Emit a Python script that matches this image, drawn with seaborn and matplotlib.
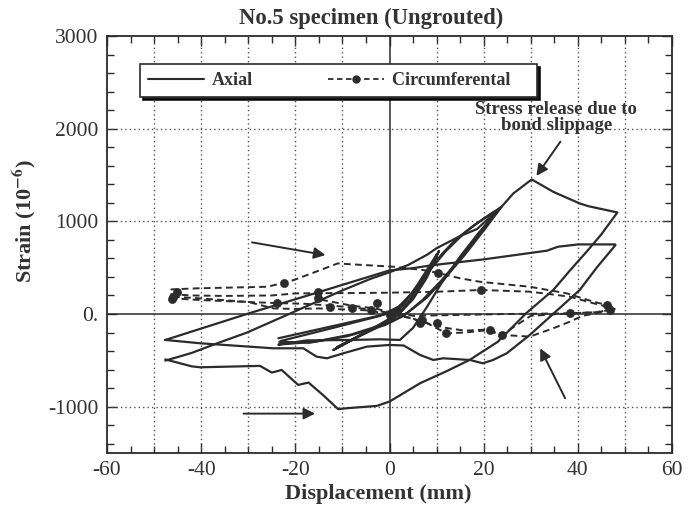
import numpy as np
import pandas as pd
import matplotlib
matplotlib.use("Agg")
import matplotlib.pyplot as plt
import seaborn as sns
from matplotlib.lines import Line2D
from matplotlib.ticker import FixedLocator, MultipleLocator

sns.set_style("ticks")
plt.rcParams["font.family"] = ["Liberation Serif", "DejaVu Serif"]
plt.rcParams["mathtext.fontset"] = "stix"
plt.rcParams["axes.unicode_minus"] = False

INK = "#2b2b2b"

# ---------------- data (displacement mm, strain 1e-6) ----------------
# Axial: big cycle with stress release peak
axial_a_x = [-47.6, -42, -36.6, -30.3, -20, -9.8, -4, 0, 4, 8, 10, 12.1, 15, 18.6, 21, 23.8, 26.3, 27.7, 30.2,
             34.8, 40.4, 42.2, 48.4, 45, 42, 38.5, 34.8, 29, 23, 17, 12, 6.5, 0, -2.7, -9.1, -10.9,
             -14, -17.2, -19.4, -22.9, -25, -27.5, -40.2, -42, -47.6]
axial_a_y = [-503, -420, -316, -201, 30, 259, 380, 450, 530, 640, 710, 765, 841, 917, 1030, 1157, 1301, 1355, 1452,
             1318, 1193, 1164, 1096, 860, 680, 480, 260, 7, -300, -496, -620, -747, -945, -992, -1017, -1027,
             -880, -740, -765, -604, -632, -560, -575, -565, -490]
# Axial: second cycle at +/-48 mm (peak about 750)
axial_b_x = [-47.6, -30, -18, 0, 5, 9.3, 20.1, 33.4, 35.8, 40.1, 47.9, 48, 44, 40.4, 29.8, 24.9, 22, 19.8,
             17.1, 11.4, 9.3, 6.5, 3, 0, -4.8, -9.8, -13.3, -15.5, -18.3, -24.7, -40.2, -47.6]
axial_b_y = [-280, 5, 190, 470, 495, 528, 590, 683, 726, 751, 751, 744, 500, 259, -226, -424, -496, -532,
             -496, -478, -496, -442, -340, -334, -352, -424, -478, -460, -370, -370, -316, -280]
# Axial: cycles at +/-24 mm
axial_c_x = [-23.6, -12, 0, 3, 6, 9, 12, 16, 20, 23.8, 20, 16, 12, 8, 4, 0, -8, -16, -23.6,
             -17.6, -8, -2, 2.2, 5, 8, 11, 15, 19, 23.3]
axial_c_y = [-262, -130, 7, 120, 300, 500, 680, 880, 1030, 1157, 900, 640, 400, 180, 20, -90, -220, -300, -330,
             -285, -280, -273, -280, -150, 80, 330, 620, 880, 1130]
axial_d_x = [-23.0, -12, -2, 2, 5, 8, 11, 14, 18, 22.5, 19, 15, 11, 7, 3, -1, -9, -17, -23.4]
axial_d_y = [-290, -150, -20, 80, 240, 440, 640, 800, 960, 1110, 860, 600, 360, 150, -20, -120, -240, -310, -300]
# Axial: cycles at +/-12 mm
axial_e_x = [-11.9, -6, 0, 3, 6, 9, 10.5, 8, 5, 2, 0, -6, -11.9]
axial_e_y = [-388, -230, -83, 60, 280, 520, 680, 400, 160, 0, -60, -220, -388]
axial_f_x = [-11.2, -5, 0, 3, 6, 8.5, 10.0, 7.5, 4.5, 1, -5, -11.2]
axial_f_y = [-360, -200, -50, 100, 320, 520, 640, 360, 140, -40, -200, -360]

# Circumferential (dashed)
circ_1_x = [-46.5, -40.9, -26, -22.5, -20.3, -14.7, -11, -9, 0.9, 7.2, 10.7, 15, 19.2, 29.8, 37.6, 43.3, 46.1, 47.9]
circ_1_y = [265, 277, 294, 335, 367, 474, 546, 539, 510, 474, 439, 385, 348, 294, 223, 133, 97, 61]
circ_2_x = [-46.5, -42, -35, -25, -20, -15, -10, 0, 10, 19.4, 29.8, 38.3, 43, 46.5, 48]
circ_2_y = [215, 200, 195, 200, 222, 225, 225, 230, 240, 259, 241, 187, 120, 75, 50]
circ_3_x = [-46.5, -40, -33, -24, -18, -15, -10, -5, -2, 0, 2, 5, 8, 12, 16, 20, 24, 29.8, 34.8, 38.3, 41, 45, 47]
circ_3_y = [170, 150, 135, 118, 110, 100, 80, 55, 30, 10, -10, -50, -100, -150, -180, -170, -226, -244, -154, -83, -20, 20, 60]
circ_4_x = [-46, -42, -30, -24.6, -20, -15, -10, -5, 0, 4, 8, 12.1, 16, 21.3, 23.8, 30, 38.3, 44, 46.8]
circ_4_y = [185, 175, 130, 60, 55, 60, 50, 40, 0, -40, -100, -208, -200, -172, -226, -20, 7, 20, 43]
circ_5_x = [-15.1, -15.1, -8, -3, 0, 5, 15, 25, 38.3, 44, 46.5]
circ_5_y = [250, 160, 90, 60, 20, -20, -10, 0, 7, 20, 40]
circ_mark_x = [-45.9, -45.1, -46.2, -22.5, -15.1, -15.1, -24.0, -12.6, -2.7, 0, 1.5, 7, 10, 10.4, 6.5,
               12.1, 21.3, 23.8, 19.4, 38.3, 46.1, 46.8, -4, -8]
circ_mark_y = [187, 240, 160, 331, 240, 170, 115, 79, 115, -11, 30, -65, -100, 439, -101,
               -208, -172, -226, 259, 7, 97, 43, 40, 60]

x_tick_vals = [-60, -40, -20, 0, 20, 40, 60]
x_tick_text = ["-60", "-40", "-20", "0", "20", "40", "60"]
y_tick_vals = [-1000, 0, 1000, 2000, 3000]
y_tick_text = ["-1000", "0.", "1000", "2000", "3000"]

# ---------------- tables ----------------
def table(pairs):
    rows = []
    for name, (xs, ys) in pairs.items():
        for i, (xv, yv) in enumerate(zip(xs, ys)):
            rows.append({"seg": name, "i": i, "x": xv, "y": yv})
    return pd.DataFrame(rows)

axial_df = table({"a": (axial_a_x, axial_a_y), "b": (axial_b_x, axial_b_y),
                  "c": (axial_c_x, axial_c_y), "d": (axial_d_x, axial_d_y),
                  "e": (axial_e_x, axial_e_y), "f": (axial_f_x, axial_f_y)})
circ_df = table({"1": (circ_1_x, circ_1_y), "2": (circ_2_x, circ_2_y), "3": (circ_3_x, circ_3_y),
                 "4": (circ_4_x, circ_4_y), "5": (circ_5_x, circ_5_y)})
mark_df = pd.DataFrame({"x": circ_mark_x, "y": circ_mark_y})

# ---------------- figure ----------------
fig = plt.figure(figsize=(6.89, 5.08), dpi=100)
ax = fig.add_axes([107 / 689, 1 - 453 / 508, 565 / 689, 417 / 508])
ax.set_xlim(-60, 60)
ax.set_ylim(-1500, 3000)

dot = (0, (1, 2.2))
for gx in [-50, -40, -30, -20, -10, 10, 20, 30, 40, 50]:
    ax.axvline(gx, color="#555555", lw=1.0, ls=dot, zorder=1)
for gy in [-1000, 1000, 2000]:
    ax.axhline(gy, color="#555555", lw=1.0, ls=dot, zorder=1)
ax.axvline(0, color=INK, lw=1.1, zorder=1)
ax.axhline(0, color=INK, lw=1.1, zorder=1)

sns.lineplot(data=circ_df, x="x", y="y", units="seg", estimator=None, sort=False,
             color=INK, lw=1.4, ls=(0, (3.5, 2.2)), ax=ax, legend=False, zorder=3)
sns.scatterplot(data=mark_df, x="x", y="y", color=INK, s=34, edgecolor=INK, ax=ax, legend=False, zorder=4)
sns.lineplot(data=axial_df, x="x", y="y", units="seg", estimator=None, sort=False,
             color=INK, lw=1.6, ax=ax, legend=False, zorder=5)

# ticks
ax.xaxis.set_major_locator(FixedLocator(x_tick_vals))
ax.set_xticklabels(x_tick_text)
ax.xaxis.set_minor_locator(MultipleLocator(5))
ax.yaxis.set_major_locator(FixedLocator(y_tick_vals))
ax.set_yticklabels(y_tick_text)
ax.yaxis.set_minor_locator(MultipleLocator(200))
ax.tick_params(which="both", direction="in", top=True, right=True, color=INK, width=1.0)
ax.tick_params(which="major", length=7, labelsize=15.5, labelcolor="#333333", pad=6)
ax.tick_params(which="minor", length=5)
for s in ax.spines.values():
    s.set_color(INK)
    s.set_linewidth(1.3)

ax.set_xlabel("")
ax.set_ylabel("")
fig.text(371 / 689, 1 - 18 / 508, "No.5 specimen (Ungrouted)", ha="center", va="center",
         fontsize=16.3, fontweight="bold", color="#333333")
fig.text(378 / 689, 1 - 494 / 508, "Displacement (mm)", ha="center", va="center",
         fontsize=16, fontweight="bold", color="#333333")
fig.text(24 / 689, 1 - 221 / 508, r"Strain (10$^{\mathbf{-6}}$)", ha="center", va="center",
         rotation=90, fontsize=16, fontweight="bold", color="#333333")

# legend
handles = [Line2D([], [], color=INK, lw=1.5),
           Line2D([], [], color=INK, lw=1.3, ls=(0, (3, 2)), marker="o", markersize=5)]
leg = ax.legend(handles, ["Axial", "Circumferental    "], loc="lower left",
                bbox_to_anchor=(33 / 565, 356 / 417, 397 / 565, 35 / 417), mode="expand", ncol=2,
                borderaxespad=0, frameon=True, fancybox=False, handlelength=3.1, handletextpad=0.45,
                numpoints=1, prop={"weight": "bold", "size": 13}, shadow={"color": "black", "alpha": 0.9},
                columnspacing=2.5, borderpad=0.45)
leg.get_frame().set_edgecolor(INK)
leg.get_frame().set_linewidth(1.2)
leg.get_frame().set_alpha(1)
for t in leg.get_texts():
    t.set_color("#333333")
leg.set_zorder(10)

# annotations
arrow_kw = dict(arrowstyle="-|>", color=INK, lw=1.4, mutation_scale=17, shrinkA=0, shrinkB=0)
ax.text(35.4, 2120, "Stress release due to\nbond slippage", ha="center", va="center",
        fontsize=13.5, fontweight="bold", color="#333333", linespacing=0.92)
ax.annotate("", xy=(31.2, 1490), xytext=(36.3, 1860), arrowprops=arrow_kw)
ax.annotate("", xy=(-13.6, 636), xytext=(-29.2, 773), arrowprops=arrow_kw)
ax.annotate("", xy=(-15.8, -1075), xytext=(-31, -1075), arrowprops=arrow_kw)
ax.annotate("", xy=(32, -370), xytext=(37.3, -909), arrowprops=arrow_kw)

fig.savefig("out.png", dpi=100, facecolor="white")
